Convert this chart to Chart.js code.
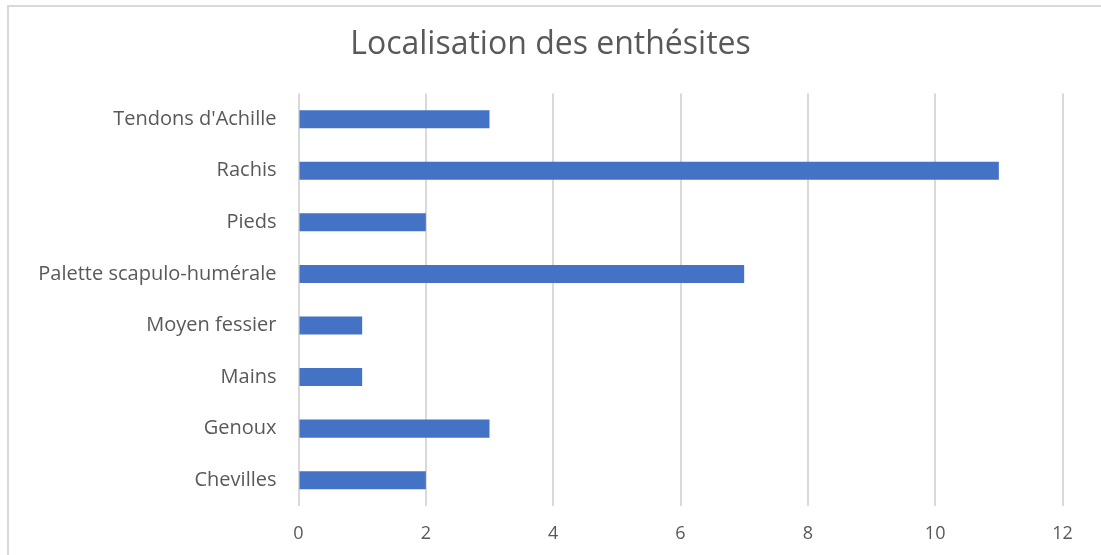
<!DOCTYPE html>
<html>
<head>
  <title>Localisation des enthésites</title>
  <script src="https://cdn.jsdelivr.net/npm/chart.js"></script>
  <style>
    body { margin: 0; background: #fff; overflow: hidden; }
    .frame { position: absolute; left: 7px; top: 5px; width: 1200px; height: 700px; border-left: 2px solid #d9d9d9; border-top: 2px solid #d9d9d9; }
    .chart-box { position: absolute; left: 0; top: 0; width: 1101px; height: 555px; }
  </style>
</head>
<body>
  <div class="frame"></div>
  <div class="chart-box"><canvas id="enthesites-chart"></canvas></div>
  <script>
    const categories = ["Tendons d'Achille", "Rachis", "Pieds", "Palette scapulo-humérale", "Moyen fessier", "Mains", "Genoux", "Chevilles"];
    const counts = [3, 11, 2, 7, 1, 1, 3, 2];
    const xTicks = [0, 2, 4, 6, 8, 10, 12];

    const textColor = "#595959";
    const font = "'Open Sans', sans-serif";

    const ctx = document.getElementById("enthesites-chart").getContext('2d');
    const chart = new Chart(ctx, {
      type: 'bar',
      data: {
        labels: categories,
        datasets: [{
          label: 'Série1',
          backgroundColor: "#4472C4",
          data: counts,
          categoryPercentage: 1,
          barPercentage: 0.35
        }]
      },
      options: {
        indexAxis: 'y',
        responsive: true,
        maintainAspectRatio: false,
        animation: false,
        // symmetric side padding so the title stays centred on the page
        layout: { padding: { left: 38.5, right: 38.5, top: 0, bottom: 0 } },
        plugins: {
          legend: { display: false },
          tooltip: { enabled: false },
          title: {
            display: true,
            text: "Localisation des enthésites",
            color: textColor,
            font: { family: font, size: 32, weight: 'normal' },
            padding: { top: 26, bottom: 29 }
          }
        },
        scales: {
          x: {
            min: 0,
            max: 12,
            afterBuildTicks: (scale) => { scale.ticks = xTicks.map(v => ({ value: v })); },
            afterFit: (scale) => { scale.height = 49; },
            border: { display: false },
            grid: { color: "#d9d9d9", lineWidth: 2, drawTicks: false },
            ticks: { color: textColor, padding: 17, font: { family: font, size: 18 } }
          },
          y: {
            afterFit: (scale) => { scale.width = 260; },
            border: { display: false },
            grid: { display: false },
            ticks: { color: textColor, padding: 14, font: { family: font, size: 20 } }
          }
        }
      }
    });
  </script>
</body>
</html>
